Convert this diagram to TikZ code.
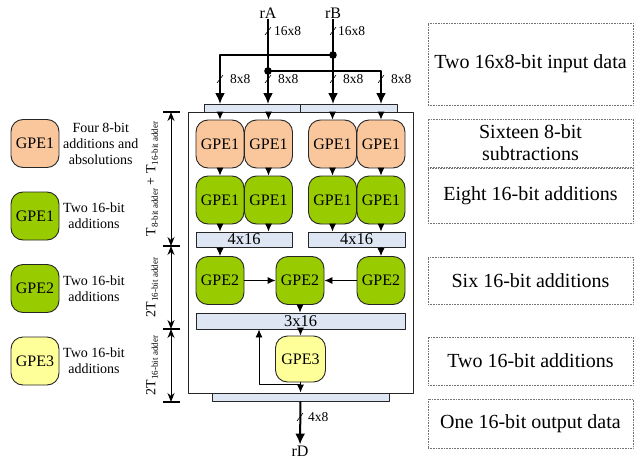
\documentclass[tikz,border=0pt]{standalone}
\usepackage{fontspec}
\setmainfont{Liberation Serif}
\usetikzlibrary{arrows.meta,calc}
\definecolor{peach}{RGB}{250,199,157}
\definecolor{leaf}{RGB}{153,204,0}
\definecolor{lemon}{RGB}{255,255,153}
\definecolor{mist}{RGB}{221,230,242}
\newcommand\lowsub[1]{\raisebox{-2.5pt}{\fontsize{9}{9}\selectfont #1}}
\begin{document}
\begin{tikzpicture}[x=1pt,y=-1pt,line join=round,
  gpe/.style={draw=black!85,line width=0.9pt,rounded corners=12pt,minimum width=48pt,
    minimum height=48pt,inner sep=0pt,font=\rmfamily\fontsize{16}{16}\selectfont},
  pa/.style={gpe,fill=peach},
  ga/.style={gpe,fill=leaf},
  ya/.style={gpe,fill=lemon},
  bar/.style={draw=black!85,line width=0.9pt,fill=mist,inner sep=0pt,
    font=\rmfamily\fontsize{16.5}{16}\selectfont},
  arr/.style={line width=0.9pt,-{Latex[length=8pt,width=7pt]}},
  bigarr/.style={line width=2pt,-{Latex[length=11pt,width=10pt]}},
  dimline/.style={line width=1pt,{Stealth[length=9pt,width=7pt]}-{Stealth[length=9pt,width=7pt]}},
  tickline/.style={line width=1.2pt},
  slash/.style={line width=0.6pt},
  buslbl/.style={font=\rmfamily\fontsize{13.5}{14}\selectfont,anchor=west,inner sep=0pt},
  rbox/.style={draw=black!55,densely dotted,line width=0.6pt,minimum width=205pt,
    inner sep=2pt,align=center,font=\rmfamily\fontsize{20}{22}\selectfont},
  legtext/.style={anchor=west,align=center,inner sep=0pt,font=\rmfamily\fontsize{14}{16}\selectfont},
  reglbl/.style={inner sep=1pt,font=\rmfamily\fontsize{16}{16}\selectfont},
  dimlbl/.style={rotate=90,inner sep=0pt,font=\rmfamily\fontsize{14}{14}\selectfont}]

\useasboundingbox (0,0) rectangle (634,460);

% datapath frame
\node[draw=black!85,line width=0.9pt,minimum width=225pt,minimum height=281pt,inner sep=0pt]
  (core) at (300.5,252.5) {};

% registers and buses
\node[reglbl] (rA) at (268,13) {rA};
\node[reglbl] (rB) at (333,13) {rB};
\node[reglbl] (rD) at (300,451) {rD};

\node[bar,minimum width=96pt,minimum height=8pt] (inA) at (252,108) {};
\node[bar,minimum width=97pt,minimum height=8pt] (inB) at (348.5,108) {};
\node[bar,minimum width=177pt,minimum height=8pt] (ob) at (300.5,397) {};

\coordinate (jB) at (333,55);
\coordinate (jA) at (268,71);
\coordinate (p1) at (220,104);
\coordinate (p2) at (268,104);
\coordinate (p3) at (333,104);
\coordinate (p4) at (381,104);

\draw[bigarr] (rA) -- (p2);
\draw[bigarr] (rB) -- (p3);
\draw[bigarr] (jB) -| (p1);
\draw[bigarr] (jA) -| (p4);
\fill (jB) circle (3.8);
\fill (jA) circle (3.8);

% bus width marks
\foreach \x/\y in {268/31,333/31,220/79,268/79,333/79,381/79,300/417}
  \draw[slash] (\x-3,\y+4) -- (\x+3,\y-4);
\node[buslbl] at (274,31) {16x8};
\node[buslbl] at (338,31) {16x8};
\node[buslbl] at (230,79) {8x8};
\node[buslbl] at (278,79) {8x8};
\node[buslbl] at (343,79) {8x8};
\node[buslbl] at (391,79) {8x8};
\node[buslbl] at (308,417) {4x8};

% stage 1: 8-bit units
\node[pa] (o1) at (220,144) {GPE1};
\node[pa] (o2) at (268.5,144) {GPE1};
\node[pa] (o3) at (332.5,144) {GPE1};
\node[pa] (o4) at (381,144) {GPE1};
% stage 2: 16-bit units
\node[ga] (g1) at (220,200) {GPE1};
\node[ga] (g2) at (268.5,200) {GPE1};
\node[ga] (g3) at (332.5,200) {GPE1};
\node[ga] (g4) at (381,200) {GPE1};

\node[bar,minimum width=96pt,minimum height=15pt] (bL) at (244,239.5) {4x16};
\node[bar,minimum width=97pt,minimum height=15pt] (bR) at (356.5,239.5) {4x16};

\draw[arr] (o1 |- inA.south) -- (o1);
\draw[arr] (o2 |- inA.south) -- (o2);
\draw[arr] (o3 |- inB.south) -- (o3);
\draw[arr] (o4 |- inB.south) -- (o4);
\foreach \i in {1,2,3,4} \draw[arr] (o\i) -- (g\i);
\draw[arr] (g1) -- (g1 |- bL.north);
\draw[arr] (g2) -- (g2 |- bL.north);
\draw[arr] (g3) -- (g3 |- bR.north);
\draw[arr] (g4) -- (g4 |- bR.north);

% stage 3
\node[ga] (q1) at (220,280.5) {GPE2};
\node[ga] (q2) at (300,280.5) {GPE2};
\node[ga] (q3) at (381,280.5) {GPE2};
\node[bar,minimum width=209pt,minimum height=16pt] (c3) at (300.5,321) {3x16};

\draw[arr] (bL.south -| q1) -- (q1);
\draw[arr] (bR.south -| q3) -- (q3);
\draw[arr] (q1) -- (q2);
\draw[arr] (q3) -- (q2);
\draw[arr] (q2) -- (q2 |- c3.north);

% stage 4
\node[ya,minimum width=50pt,minimum height=46pt] (r3) at (300.5,359) {GPE3};
\coordinate (fb) at (300.5,384);
\coordinate (fbx) at (259,384);
\draw[arr] (c3.south -| r3) -- (r3);
\draw[arr] (r3) -- (r3 |- ob.north);
\draw[arr] (fb) -- (fbx) -- (fbx |- c3.south);
\draw[bigarr] (ob) -- (rD);

% timing dimensions
\coordinate (d0) at (171,112);
\coordinate (d1) at (171,246);
\coordinate (d2) at (171,329);
\coordinate (d3) at (171,402);
\foreach \d in {d0,d1,d2,d3}
  \draw[tickline] ($(\d)+(-8,0)$) -- ($(\d)+(9,0)$);
\draw[dimline] (d0) -- (d1);
\draw[dimline] (d1) -- (d2);
\draw[dimline] (d2) -- (d3);
\node[dimlbl] (t1) at (152,179) {T\lowsub{8-bit adder} + T\lowsub{16-bit adder}};
\node[dimlbl] (t2) at (152,287.5) {2T\lowsub{16-bit adder}};
\node[dimlbl] (t3) at (152,365.5) {2T\lowsub{16-bit adder}};

% legend
\node[pa] (k1) at (35,143.5) {GPE1};
\node[ga] (k2) at (35,216) {GPE1};
\node[ga] (k3) at (35,288.5) {GPE2};
\node[ya] (k4) at (35,361) {GPE3};
\node[legtext] (k1t) at (63,143.5) {Four 8-bit\\additions and\\absolutions};
\node[legtext] (k2t) at (63,216) {Two 16-bit\\additions};
\node[legtext] (k3t) at (63,288.5) {Two 16-bit\\additions};
\node[legtext] (k4t) at (63,361) {Two 16-bit\\additions};

% stage descriptions
\node[rbox,minimum height=82pt] (s1) at (530.5,64) {Two 16x8-bit input data};
\node[rbox,minimum height=48pt] (s2) at (530.5,143) {Sixteen 8-bit\\subtractions};
\node[rbox,minimum height=55pt] (s3) at (530.5,195.5) {Eight 16-bit additions};
\node[rbox,minimum height=47pt] (s4) at (530.5,280.5) {Six 16-bit additions};
\node[rbox,minimum height=48pt] (s5) at (530.5,361) {Two 16-bit additions};
\node[rbox,minimum height=49pt] (s6) at (530.5,423.5) {One 16-bit output data};
\end{tikzpicture}
\end{document}
